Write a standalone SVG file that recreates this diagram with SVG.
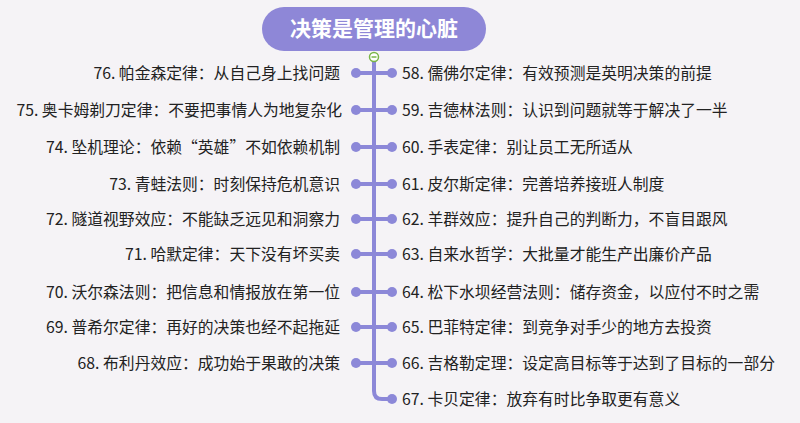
<svg xmlns="http://www.w3.org/2000/svg" width="800" height="423" viewBox="0 0 800 423">
<style>
text{font-family:"Noto Sans CJK SC","Liberation Sans",sans-serif;font-size:15.8px;fill:#222}
.l{text-anchor:end}
.c{fill:none;stroke:#8c88d8;stroke-width:4;stroke-linecap:round}
.d{fill:#8c88d8}
</style>
<rect width="800" height="423" fill="#f5f3f6"/>
<g id="connectors">
<path class="c" d="M374 56V391Q374 399 382 399H392"/>
<path class="c" d="M356 73H392M356 110H392M356 147H392M356 184H392M356 219H392M356 254H392M356 292H392M356 327H392M356 363H392"/>
<g class="d">
<circle cx="356" cy="73" r="5"/><circle cx="392" cy="73" r="5"/>
<circle cx="356" cy="110" r="5"/><circle cx="392" cy="110" r="5"/>
<circle cx="356" cy="147" r="5"/><circle cx="392" cy="147" r="5"/>
<circle cx="356" cy="184" r="5"/><circle cx="392" cy="184" r="5"/>
<circle cx="356" cy="219" r="5"/><circle cx="392" cy="219" r="5"/>
<circle cx="356" cy="254" r="5"/><circle cx="392" cy="254" r="5"/>
<circle cx="356" cy="292" r="5"/><circle cx="392" cy="292" r="5"/>
<circle cx="356" cy="327" r="5"/><circle cx="392" cy="327" r="5"/>
<circle cx="356" cy="363" r="5"/><circle cx="392" cy="363" r="5"/>
<circle cx="392" cy="399" r="5"/>
</g>
<circle cx="374" cy="57" r="4.5" fill="#fff" stroke="#7ab648" stroke-width="1.5"/>
<path d="M371.5 57H376.5" stroke="#7ab648" stroke-width="1.5"/>
</g>
<g id="root">
<rect x="262" y="7" width="224" height="44" rx="22" fill="#8e87d7"/>
<text x="374" y="36" text-anchor="middle" style="font-size:21px;font-weight:bold;fill:#fff">决策是管理的心脏</text>
</g>
<g id="left">
<text class="l" x="340" y="79">76. 帕金森定律：从自己身上找问题</text>
<text class="l" x="342" y="116">75. 奥卡姆剃刀定律：不要把事情人为地复杂化</text>
<text class="l" x="340" y="153">74. 坠机理论：依赖“英雄”不如依赖机制</text>
<text class="l" x="340" y="190">73. 青蛙法则：时刻保持危机意识</text>
<text class="l" x="340" y="225">72. 隧道视野效应：不能缺乏远见和洞察力</text>
<text class="l" x="340" y="260">71. 哈默定律：天下没有坏买卖</text>
<text class="l" x="340" y="298">70. 沃尔森法则：把信息和情报放在第一位</text>
<text class="l" x="340" y="333">69. 普希尔定律：再好的决策也经不起拖延</text>
<text class="l" x="340" y="369">68. 布利丹效应：成功始于果敢的决策</text>
</g>
<g id="right">
<text x="402" y="79">58. 儒佛尔定律：有效预测是英明决策的前提</text>
<text x="402" y="116">59. 吉德林法则：认识到问题就等于解决了一半</text>
<text x="402" y="153">60. 手表定律：别让员工无所适从</text>
<text x="402" y="190">61. 皮尔斯定律：完善培养接班人制度</text>
<text x="402" y="225">62. 羊群效应：提升自己的判断力，不盲目跟风</text>
<text x="402" y="260">63. 自来水哲学：大批量才能生产出廉价产品</text>
<text x="402" y="298">64. 松下水坝经营法则：储存资金，以应付不时之需</text>
<text x="402" y="333">65. 巴菲特定律：到竞争对手少的地方去投资</text>
<text x="402" y="369">66. 吉格勒定理：设定高目标等于达到了目标的一部分</text>
<text x="402" y="405">67. 卡贝定律：放弃有时比争取更有意义</text>
</g>
</svg>
